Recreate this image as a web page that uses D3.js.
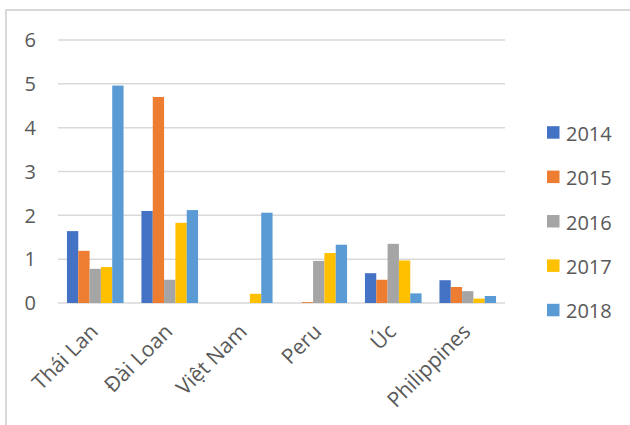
<!DOCTYPE html>
<html>
<head>
<meta charset="utf-8">
<script src="https://cdn.jsdelivr.net/npm/d3@7"></script>
<style>
  body { margin: 0; background: #fff; }
  svg text { font-family: "Open Sans", "Noto Sans", sans-serif; fill: #595959; }
</style>
</head>
<body>
<svg id="chart" width="630" height="425"></svg>
<script>
const categories = ['Thái Lan', 'Đài Loan', 'Việt Nam', 'Peru', 'Úc', 'Philippines']
const years = ['2014', '2015', '2016', '2017', '2018']
const colors = ['#4472C4', '#ED7D31', '#A5A5A5', '#FFC000', '#5B9BD5']

// one array per year, in the order of categories
const v2014 = [1.64, 2.10, 0, 0, 0.68, 0.52]
const v2015 = [1.19, 4.70, 0, 0.02, 0.53, 0.365]
const v2016 = [0.78, 0.53, 0, 0.96, 1.35, 0.27]
const v2017 = [0.82, 1.83, 0.21, 1.14, 0.97, 0.10]
const v2018 = [4.96, 2.12, 2.06, 1.33, 0.22, 0.16]
const yTicks = [0, 1, 2, 3, 4, 5, 6]

const series = [v2014, v2015, v2016, v2017, v2018]

const svg = d3.select('#chart')

// chart frame (clipped by the picture on the right and bottom)
svg.append('rect')
    .attr('x', 6).attr('y', 10)
    .attr('width', 700).attr('height', 500)
    .attr('fill', 'none')
    .attr('stroke', '#d9d9d9')
    .attr('stroke-width', 2)

const x0 = d3.scaleBand()
    .domain(categories)
    .range([58, 505])

const x1 = d3.scaleBand()
    .domain(years)
    .range([0, x0.bandwidth()])
    .paddingOuter(0.79)

const y = d3.scaleLinear()
    .domain([0, 6])
    .range([303, 40])

/// gridlines and y labels ////////
svg.append('g').selectAll('line')
    .data(yTicks)
    .join('line')
    .attr('x1', 58).attr('x2', 505)
    .attr('y1', d => y(d)).attr('y2', d => y(d))
    .attr('stroke', '#d9d9d9')
    .attr('stroke-width', 1.5)

svg.append('g').selectAll('text')
    .data(yTicks)
    .join('text')
    .attr('x', 36)
    .attr('y', d => y(d))
    .attr('dy', '0.36em')
    .attr('text-anchor', 'end')
    .attr('font-size', 20)
    .text(d => d)

/// bars ////////
const rows = categories.map((c, i) => ({
    category: c,
    values: years.map((yr, j) => ({ year: yr, value: series[j][i], color: colors[j] }))
}))

svg.append('g').selectAll('g')
    .data(rows)
    .join('g')
    .attr('transform', d => `translate(${x0(d.category)},0)`)
    .selectAll('rect')
    .data(d => d.values)
    .join('rect')
    .attr('x', d => x1(d.year))
    .attr('width', x1.bandwidth())
    .attr('y', d => y(d.value))
    .attr('height', d => y(0) - y(d.value))
    .attr('fill', d => d.color)

/// x labels ////////
svg.append('g').selectAll('text')
    .data(categories)
    .join('text')
    .attr('transform', d => `translate(${x0(d) + x0.bandwidth() / 2 + 4},333) rotate(-45)`)
    .attr('text-anchor', 'end')
    .attr('font-size', 21)
    .text(d => d)

/// legend ////////
const legend = svg.append('g').selectAll('g')
    .data(years)
    .join('g')
    .attr('transform', (d, i) => `translate(547,${140.7 + i * 44.4})`)

legend.append('rect')
    .attr('x', 0).attr('y', -14.5)
    .attr('width', 12.5).attr('height', 12.5)
    .attr('fill', (d, i) => colors[i])

legend.append('text')
    .attr('x', 19)
    .attr('font-size', 20)
    .text(d => d)
</script>
</body>
</html>
